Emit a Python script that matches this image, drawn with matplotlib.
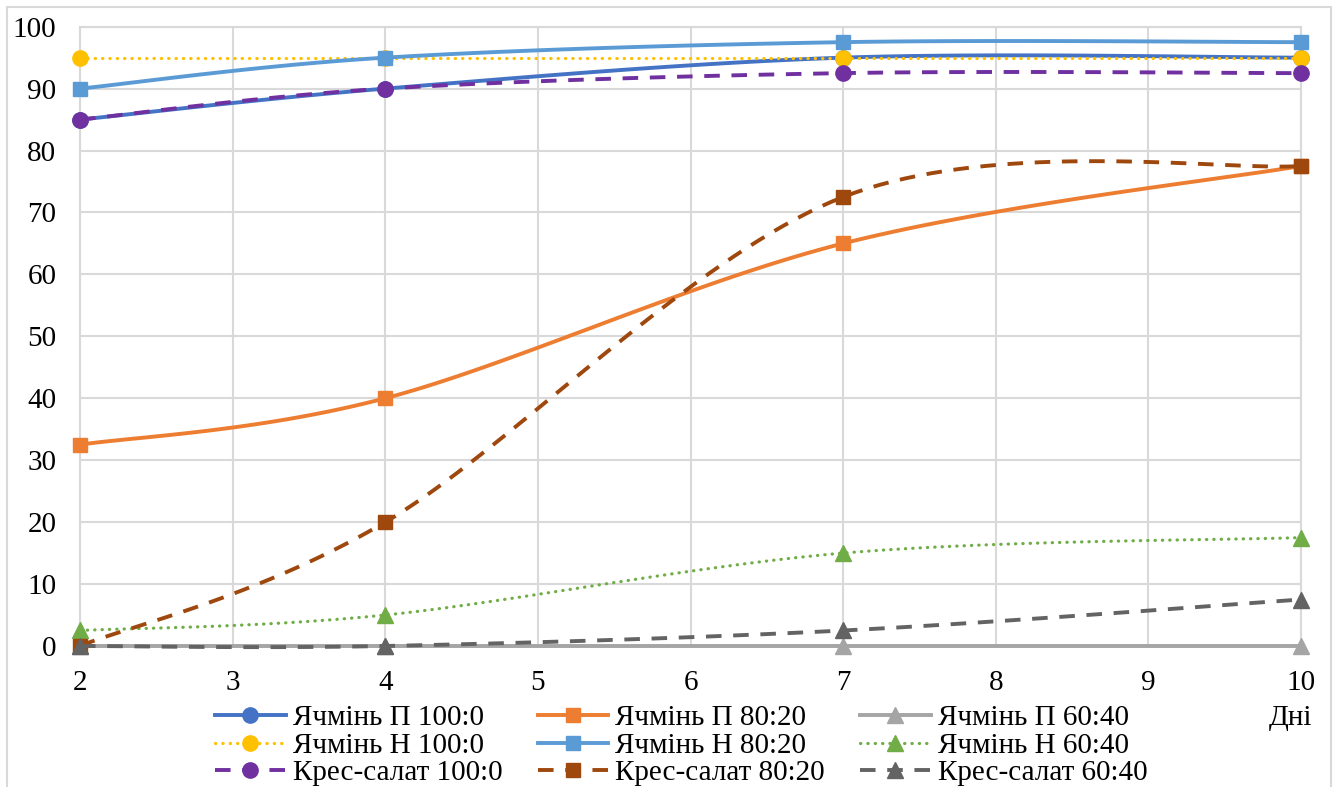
import numpy as np
import matplotlib.pyplot as plt
from matplotlib.lines import Line2D
from matplotlib.patches import Rectangle

plt.rcParams['font.family'] = ['Liberation Serif', 'DejaVu Serif']

# дні спостереження
days = [2, 4, 7, 10]

# схожість, %
barley_p_100 = [85, 90, 95, 95]
barley_p_80 = [32.5, 40, 65, 77.5]
barley_p_60 = [0, 0, 0, 0]
barley_n_100 = [95, 95, 95, 95]
barley_n_80 = [90, 95, 97.5, 97.5]
barley_n_60 = [2.5, 5, 15, 17.5]
cress_100 = [85, 90, 92.5, 92.5]
cress_80 = [0, 20, 72.5, 77.5]
cress_60 = [0, 0, 2.5, 7.5]

labels = ['Ячмінь П 100:0', 'Ячмінь П 80:20', 'Ячмінь П 60:40',
          'Ячмінь Н 100:0', 'Ячмінь Н 80:20', 'Ячмінь Н 60:40',
          'Крес-салат 100:0', 'Крес-салат 80:20', 'Крес-салат 60:40']

dot = (0, (0.1, 2.2))
dash = (0, (4, 3))
# колір, стиль лінії, маркер
styles = [('#4472C4', '-', 'o'), ('#ED7D31', '-', 's'), ('#A5A5A5', '-', '^'),
          ('#FFC000', dot, 'o'), ('#5B9BD5', '-', 's'), ('#70AD47', dot, '^'),
          ('#7030A0', dash, 'o'), ('#9E480E', dash, 's'), ('#636363', dash, '^')]
series = [barley_p_100, barley_p_80, barley_p_60,
          barley_n_100, barley_n_80, barley_n_60,
          cress_100, cress_80, cress_60]
msize = {'o': 11, 's': 10, '^': 12}


def smooth(xs, ys, n=40):
    """згладжена крива як в Excel (кубічні Безьє через точки)"""
    pts = np.column_stack([xs, ys]).astype(float)
    out = []
    for i in range(len(pts) - 1):
        p0 = pts[max(i - 1, 0)]
        p1 = pts[i]
        p2 = pts[i + 1]
        p3 = pts[min(i + 2, len(pts) - 1)]
        c1 = p1 + (p2 - p0) / 6
        c2 = p2 - (p3 - p1) / 6
        t = np.linspace(0, 1, n)[:, None]
        seg = (1 - t)**3 * p1 + 3 * (1 - t)**2 * t * c1 + 3 * (1 - t) * t**2 * c2 + t**3 * p2
        out.append(seg if i == 0 else seg[1:])
    out = np.vstack(out)
    return out[:, 0], out[:, 1]


fig = plt.figure(figsize=(13.38, 7.87), dpi=100)
ax = fig.add_axes([0.0598, 0.1792, 0.9126, 0.7869])

handles = []
for k, (ys, (c, ls, m)) in enumerate(zip(series, styles)):
    sx, sy = smooth(days, ys)
    lw = 2.3 if ls is dot else 2.8
    cap = 'round' if ls is dot else 'butt'
    ax.plot(sx, sy, color=c, lw=lw, ls=ls, dash_capstyle=cap, zorder=3 + k, clip_on=False)
    ax.plot(days, ys, ls='none', marker=m, ms=msize[m], color=c, mec=c, zorder=3 + k,
            clip_on=False)
    handles.append(Line2D([], [], color=c, lw=lw, ls=ls, marker=m, ms=msize[m], mec=c,
                          dash_capstyle=cap))

ax.set_xlim(2, 10)
ax.set_ylim(0, 100)
ax.set_xticks(range(2, 11))
ax.set_yticks(range(0, 101, 10))
ax.grid(True, color='#D9D9D9', lw=1.5)
ax.set_axisbelow(True)
for s in ax.spines.values():
    s.set_color('#D9D9D9')
    s.set_linewidth(1.5)
ax.tick_params(length=0, labelsize=21, colors='black')
ax.tick_params(axis='x', pad=17)
ax.tick_params(axis='y', pad=17)

# легенда заповнюється по стовпцях, тому переставляємо
order = [0, 3, 6, 1, 4, 7, 2, 5, 8]
fig.legend([handles[i] for i in order], [labels[i] for i in order],
           loc='upper left', bbox_to_anchor=(0.1607, 0.1045), ncol=3, frameon=False,
           fontsize=21, handlelength=2.43, handletextpad=0.24, columnspacing=1.2,
           labelspacing=0.04, borderpad=0, borderaxespad=0)

fig.text(0.981, 0.0877, 'Дні', fontsize=21, ha='right', va='center')

fig.patches.append(Rectangle((7 / 1338, -0.05), 1324 / 1338, 1.05 - 7 / 787,
                             transform=fig.transFigure, fill=False,
                             edgecolor='#D9D9D9', lw=1.5))

fig.savefig('out.png', dpi=100)
